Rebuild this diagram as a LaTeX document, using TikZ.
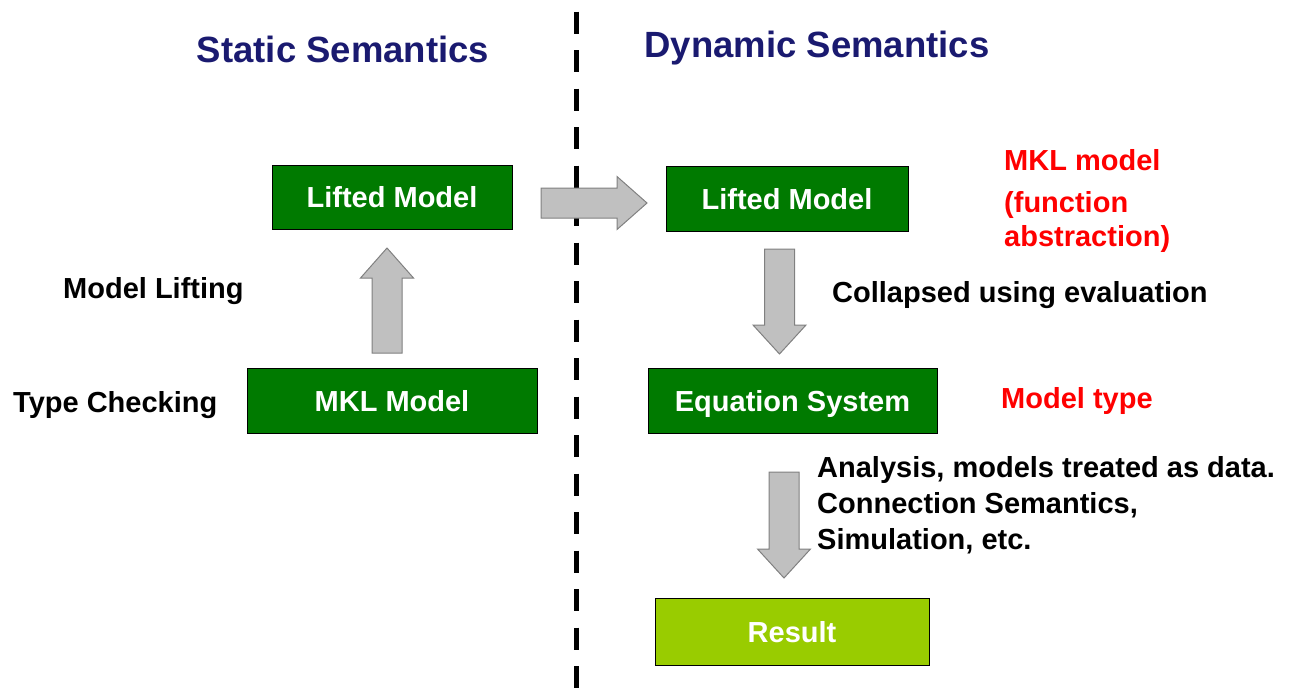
\documentclass[tikz,border=0pt]{standalone}
\usepackage{fontspec}
\setmainfont{Liberation Sans}
\definecolor{boxgreen}{RGB}{0,122,0}
\definecolor{resgreen}{RGB}{153,204,0}
\definecolor{titleblue}{RGB}{26,26,112}
\definecolor{arrowfill}{RGB}{192,192,192}
\definecolor{arrowline}{RGB}{128,128,128}
\newcommand\bodyfont{\fontsize{29}{34}\selectfont\bfseries}
\newcommand\titlefont{\fontsize{36.5}{42}\selectfont\bfseries}
% block arrow: start coordinate, direction angle, total length, head length
\newcommand\blockarrow[4]{%
  \draw[blockarr, shift={(#1)}, rotate=#2]
    (0,-15) -- ({#3-#4},-15) -- ({#3-#4},-26.5) -- (#3,0)
    -- ({#3-#4},26.5) -- ({#3-#4},15) -- (0,15) -- cycle;}
\begin{document}
\begin{tikzpicture}[x=1pt, y=-1pt,
  box/.style={draw=black, line width=1pt, fill=boxgreen, text=white,
    font=\bodyfont, inner sep=0pt, text height=21pt, text depth=0pt},
  resbox/.style={box, fill=resgreen},
  blockarr/.style={fill=arrowfill, draw=arrowline, line width=1pt},
  label/.style={anchor=base west, font=\bodyfont, inner sep=0pt},
  note/.style={label, text=red},
  title/.style={anchor=base, font=\titlefont, text=titleblue, inner sep=0pt},
  divider/.style={line width=5pt, dash pattern=on 22pt off 16.5pt}]
\useasboundingbox (0,0) rectangle (1294,689);

% headings
\node[title] (tStatic) at (343,62) {Static Semantics};
\node[title] (tDynamic) at (817,57) {Dynamic Semantics};

% separator between the two halves
\coordinate (divTop) at (576,11.5);
\coordinate (divBot) at (576,689);
\draw[divider] (divTop) -- (divBot);

% boxes
\node[box, minimum width=240, minimum height=64] (liftL) at (392,197) {Lifted Model};
\node[box, minimum width=290, minimum height=65] (mkl) at (392,400.5) {MKL Model};
\node[box, minimum width=242, minimum height=65] (liftR) at (787,198.5) {Lifted Model};
\node[box, minimum width=289, minimum height=65] (eqs) at (792.5,400.5) {Equation System};
\node[resbox, minimum width=274, minimum height=67] (res) at (792,631.5) {Result};

% block arrows
\coordinate (upS) at (387,353);
\coordinate (rightS) at (541,203);
\coordinate (downS) at (779.5,249);
\coordinate (down2S) at (784,472);
\blockarrow{upS}{90}{105}{30}
\blockarrow{rightS}{0}{106}{30}
\blockarrow{downS}{-90}{105}{29}
\blockarrow{down2S}{-90}{106}{29}

% side labels
\node[label] (lLift) at (63,298) {Model Lifting};
\node[label] (lType) at (13,412) {Type Checking};
\node[label] (lColl) at (832,302) {Collapsed using evaluation};
\node[label] (lAn1) at (817,477) {Analysis, models treated as data.};
\node[label] (lAn2) at (817,513) {Connection Semantics,};
\node[label] (lAn3) at (817,549) {Simulation, etc.};

% red notes
\node[note] (nMkl) at (1004,170) {MKL model};
\node[note] (nFun) at (1004,212) {(function};
\node[note] (nAbs) at (1004,246) {abstraction)};
\node[note] (nType) at (1001,408) {Model type};
\end{tikzpicture}
\end{document}
